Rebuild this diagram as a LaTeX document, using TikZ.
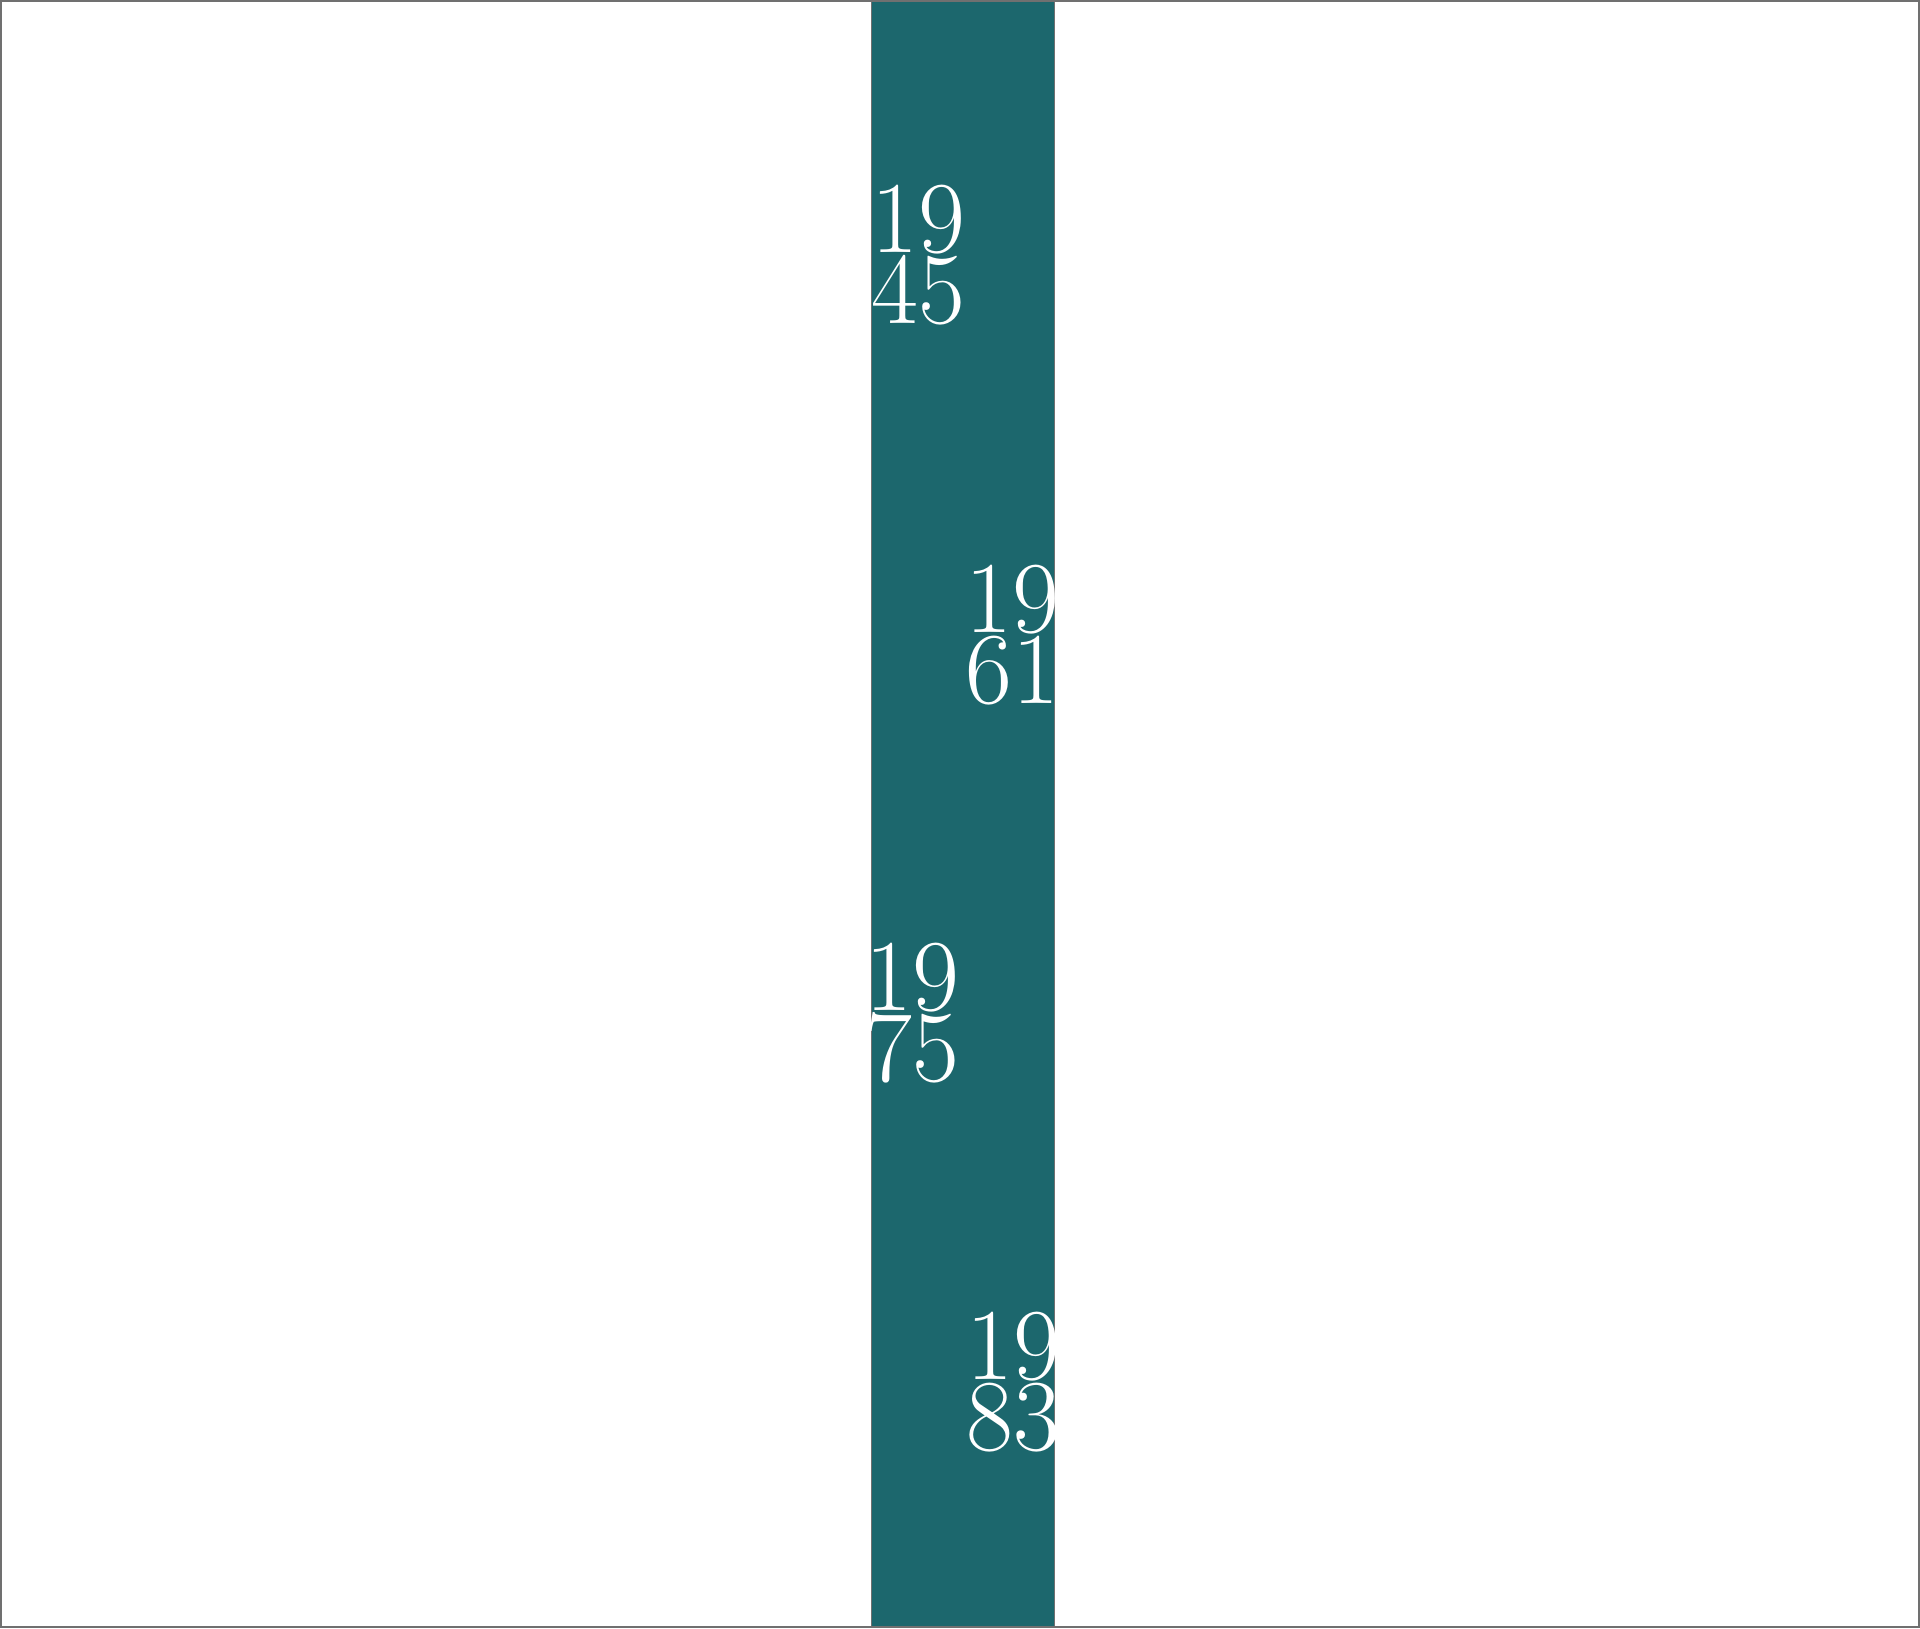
\documentclass[tikz,border=0pt]{standalone}
\definecolor{bandteal}{RGB}{28,103,109}
\definecolor{framegray}{RGB}{112,112,112}
\tikzset{
  yearlabel/.style={anchor=north, inner sep=0pt, outer sep=0pt, align=center,
    text=white, font=\fontsize{51}{35.5}\selectfont},
}
\begin{document}
\begin{tikzpicture}[x=0.5pt,y=-0.5pt]
  \useasboundingbox (0,0) rectangle (1920,1628);
  \fill[white] (0,0) rectangle (1920,1628);
  \fill[bandteal] (871,0) rectangle (1054,1628);
  \draw[framegray, line width=0.5pt] (871,0) -- (871,1628) (1054,0) -- (1054,1628);
  \draw[framegray, line width=1pt] (1,1) rectangle (1919,1627);
  \node[yearlabel] (y1945) at (918,185) {19\\45};
  \node[yearlabel] (y1961) at (1012,565) {19\\61};
  \node[yearlabel] (y1975) at (912,943) {19\\75};
  \node[yearlabel] (y1983) at (1013,1312) {19\\83};
\end{tikzpicture}
\end{document}
